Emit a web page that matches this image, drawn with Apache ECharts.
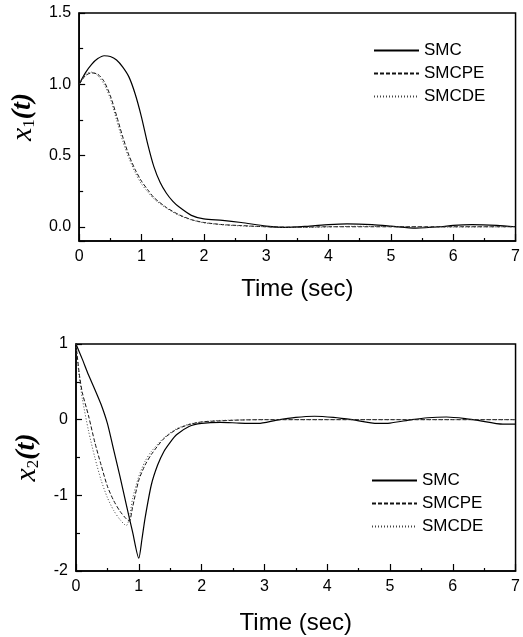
<!DOCTYPE html>
<html>
<head>
<meta charset="utf-8">
<script src="https://cdn.jsdelivr.net/npm/echarts@6/dist/echarts.min.js"></script>
<style>
  html, body { margin: 0; padding: 0; background: #fff; }
  #main { width: 523px; height: 637px; }
</style>
</head>
<body>
<div id="main"></div>
<script>
// x1(t) - upper plot
var smcT1 = [0, 0.1, 0.2, 0.3, 0.4, 0.5, 0.6, 0.7, 0.8, 0.9, 1.0, 1.1, 1.2, 1.3, 1.4, 1.5, 1.6, 1.8, 2.0, 2.3, 2.6, 3.0, 3.3, 3.7, 4.0, 4.3, 4.7, 5.0, 5.4, 5.8, 6.0, 6.3, 6.7, 7.0];
var smcV1 = [1.0, 1.08, 1.14, 1.18, 1.2, 1.195, 1.17, 1.12, 1.05, 0.93, 0.77, 0.58, 0.42, 0.31, 0.235, 0.18, 0.14, 0.08, 0.055, 0.045, 0.03, 0.005, -0.005, 0.005, 0.015, 0.02, 0.015, 0.005, -0.01, 0.0, 0.01, 0.015, 0.01, 0.0];
var smcpeT1 = [0, 0.1, 0.2, 0.3, 0.4, 0.5, 0.6, 0.7, 0.8, 0.9, 1.0, 1.1, 1.2, 1.4, 1.6, 1.8, 2.0, 2.3, 2.6, 3.0, 3.5, 4.0, 5.0, 6.0, 7.0];
var smcpeV1 = [1.0, 1.06, 1.08, 1.07, 1.02, 0.92, 0.78, 0.63, 0.5, 0.4, 0.32, 0.26, 0.205, 0.135, 0.085, 0.05, 0.03, 0.015, 0.008, 0.0, -0.003, 0.0, 0.0, 0.0, 0.0];
var smcdeT1 = [0, 0.1, 0.2, 0.3, 0.4, 0.5, 0.6, 0.7, 0.8, 0.9, 1.0, 1.1, 1.2, 1.4, 1.6, 1.8, 2.0, 2.3, 2.6, 3.0, 3.5, 4.5, 5.5, 7.0];
var smcdeV1 = [1.0, 1.07, 1.085, 1.06, 1.0, 0.9, 0.75, 0.6, 0.48, 0.38, 0.3, 0.245, 0.195, 0.13, 0.08, 0.048, 0.028, 0.014, 0.006, 0.0, -0.005, 0.003, -0.002, 0.0];

// x2(t) - lower plot
var smcT2 = [0, 0.1, 0.2, 0.3, 0.4, 0.5, 0.6, 0.7, 0.8, 0.9, 1.0, 1.05, 1.1, 1.2, 1.3, 1.4, 1.5, 1.6, 1.8, 2.0, 2.3, 2.6, 2.9, 3.2, 3.5, 3.8, 4.1, 4.4, 4.8, 5.0, 5.35, 5.6, 5.9, 6.2, 6.4, 6.8, 7.0];
var smcV2 = [1.0, 0.8, 0.59, 0.4, 0.2, -0.05, -0.4, -0.75, -1.12, -1.48, -1.83, -1.58, -1.3, -0.86, -0.6, -0.42, -0.3, -0.2, -0.09, -0.05, -0.035, -0.045, -0.05, -0.005, 0.03, 0.045, 0.03, 0.0, -0.05, -0.045, 0.0, 0.025, 0.035, 0.015, -0.01, -0.06, -0.06];
var smcpeT2 = [0, 0.05, 0.1, 0.2, 0.3, 0.4, 0.5, 0.6, 0.7, 0.8, 0.85, 0.9, 1.0, 1.1, 1.2, 1.4, 1.6, 1.8, 2.0, 2.3, 2.6, 3.0, 4.0, 5.0, 6.0, 7.0];
var smcpeV2 = [1.0, 0.62, 0.36, 0.05, -0.3, -0.6, -0.88, -1.07, -1.21, -1.31, -1.34, -1.16, -0.8, -0.6, -0.46, -0.25, -0.13, -0.065, -0.03, -0.015, -0.005, 0.0, 0.0, 0.0, 0.0, 0.0];
var smcdeT2 = [0, 0.05, 0.1, 0.2, 0.3, 0.4, 0.5, 0.6, 0.7, 0.8, 0.85, 0.9, 1.0, 1.1, 1.2, 1.4, 1.6, 1.8, 2.0, 2.3, 3.0, 4.0, 5.0, 6.0, 7.0];
var smcdeV2 = [1.0, 0.58, 0.28, -0.15, -0.5, -0.8, -1.03, -1.2, -1.32, -1.4, -1.3, -1.05, -0.75, -0.55, -0.42, -0.24, -0.12, -0.06, -0.03, -0.01, 0.0, 0.0, 0.0, 0.0, 0.0];

var names = ['SMC', 'SMCPE', 'SMCDE'];
var timeTicks = [0, 1, 2, 3, 4, 5, 6, 7];

function pairs(t, v) {
    return t.map(function (x, i) { return [x, v[i]]; });
}

var myChart = echarts.init(document.getElementById('main'));

var black = '#000';
var sans = 'Liberation Sans, Arial, sans-serif';

function xAxisCfg(gridIndex, gap) {
    return {
        type: 'value',
        gridIndex: gridIndex,
        min: timeTicks[0],
        max: timeTicks[timeTicks.length - 1],
        interval: 1,
        name: 'Time (sec)',
        nameLocation: 'middle',
        nameGap: gap,
        nameTextStyle: { fontSize: 24, color: black, fontFamily: sans },
        axisLine: { onZero: false, lineStyle: { color: black, width: 1.5 } },
        axisTick: { inside: true, length: 7, lineStyle: { color: black, width: 1.2 } },
        minorTick: { show: true, splitNumber: 2, length: 3, lineStyle: { color: black, width: 1.2 } },
        splitLine: { show: false },
        axisLabel: { fontSize: 16, color: black, fontFamily: sans, margin: 8 }
    };
}

var lineStyles = [
    { color: '#000', width: 1.2, type: 'solid' },
    { color: '#111', width: 1, type: [4, 2] },
    { color: '#444', width: 1, type: [1, 2] }
];

function mkSeries(name, idx, grid, t, v) {
    return {
        name: name,
        type: 'line',
        xAxisIndex: grid,
        yAxisIndex: grid,
        data: pairs(t, v),
        smooth: 0.25,
        symbol: 'none',
        showSymbol: false,
        color: lineStyles[idx].color,
        lineStyle: lineStyles[idx]
    };
}

function legendCfg(left, top) {
    return {
        data: names,
        orient: 'vertical',
        left: left,
        top: top,
        itemWidth: 45,
        itemHeight: 14,
        itemGap: 6,
        itemStyle: { opacity: 0 },
        textStyle: { fontSize: 17, color: black, fontFamily: sans }
    };
}

var option = {
    animation: false,
    backgroundColor: '#fff',
    grid: [
        { left: 77, top: 13, width: 440, height: 228, show: true, borderColor: black, borderWidth: 1.5 },
        { left: 76, top: 344, width: 441, height: 227, show: true, borderColor: black, borderWidth: 1.5 }
    ],
    legend: [legendCfg(368, 37), legendCfg(366, 467)],
    xAxis: [xAxisCfg(0, 36), xAxisCfg(1, 40)],
    yAxis: [
        {
            type: 'value',
            gridIndex: 0,
            min: -0.1,
            max: 1.5,
            splitNumber: 3,
            name: '{x|x}{s|1}{t|(t)}',
            nameLocation: 'middle',
            nameRotate: 90,
            nameGap: 34,
            nameTextStyle: {
                padding: [0, 0, 0, 20],
                rich: {
                    x: { fontFamily: 'Liberation Serif', fontStyle: 'italic', fontSize: 30, color: black },
                    s: { fontFamily: 'Liberation Serif', fontSize: 17, color: black, verticalAlign: 'bottom' },
                    t: { fontFamily: 'Liberation Serif', fontStyle: 'italic', fontWeight: 'bold', fontSize: 28, color: black }
                }
            },
            axisLine: { onZero: false, lineStyle: { color: black, width: 1.5 } },
            axisTick: { inside: true, length: 6, lineStyle: { color: black, width: 1.2 } },
            minorTick: { show: true, splitNumber: 2, length: 4, lineStyle: { color: black, width: 1.2 } },
            splitLine: { show: false },
            axisLabel: {
                fontSize: 16, color: black, fontFamily: sans, margin: 8, showMinLabel: false,
                formatter: function (v) { return v.toFixed(1); }
            }
        },
        {
            type: 'value',
            gridIndex: 1,
            min: -2,
            max: 1,
            interval: 1,
            name: '{x|x}{s|2}{t|(t)}',
            nameLocation: 'middle',
            nameRotate: 90,
            nameGap: 34,
            nameTextStyle: {
                rich: {
                    x: { fontFamily: 'Liberation Serif', fontStyle: 'italic', fontSize: 30, color: black },
                    s: { fontFamily: 'Liberation Serif', fontSize: 17, color: black, verticalAlign: 'bottom' },
                    t: { fontFamily: 'Liberation Serif', fontStyle: 'italic', fontWeight: 'bold', fontSize: 28, color: black }
                }
            },
            axisLine: { onZero: false, lineStyle: { color: black, width: 1.5 } },
            axisTick: { inside: true, length: 6, lineStyle: { color: black, width: 1.2 } },
            minorTick: { show: true, splitNumber: 2, length: 4, lineStyle: { color: black, width: 1.2 } },
            splitLine: { show: false },
            axisLabel: { fontSize: 16, color: black, fontFamily: sans, margin: 8 }
        }
    ],
    series: [
        mkSeries('SMC', 0, 0, smcT1, smcV1),
        mkSeries('SMCPE', 1, 0, smcpeT1, smcpeV1),
        mkSeries('SMCDE', 2, 0, smcdeT1, smcdeV1),
        mkSeries('SMC', 0, 1, smcT2, smcV2),
        mkSeries('SMCPE', 1, 1, smcpeT2, smcpeV2),
        mkSeries('SMCDE', 2, 1, smcdeT2, smcdeV2)
    ]
};

myChart.setOption(option);
</script>
</body>
</html>
